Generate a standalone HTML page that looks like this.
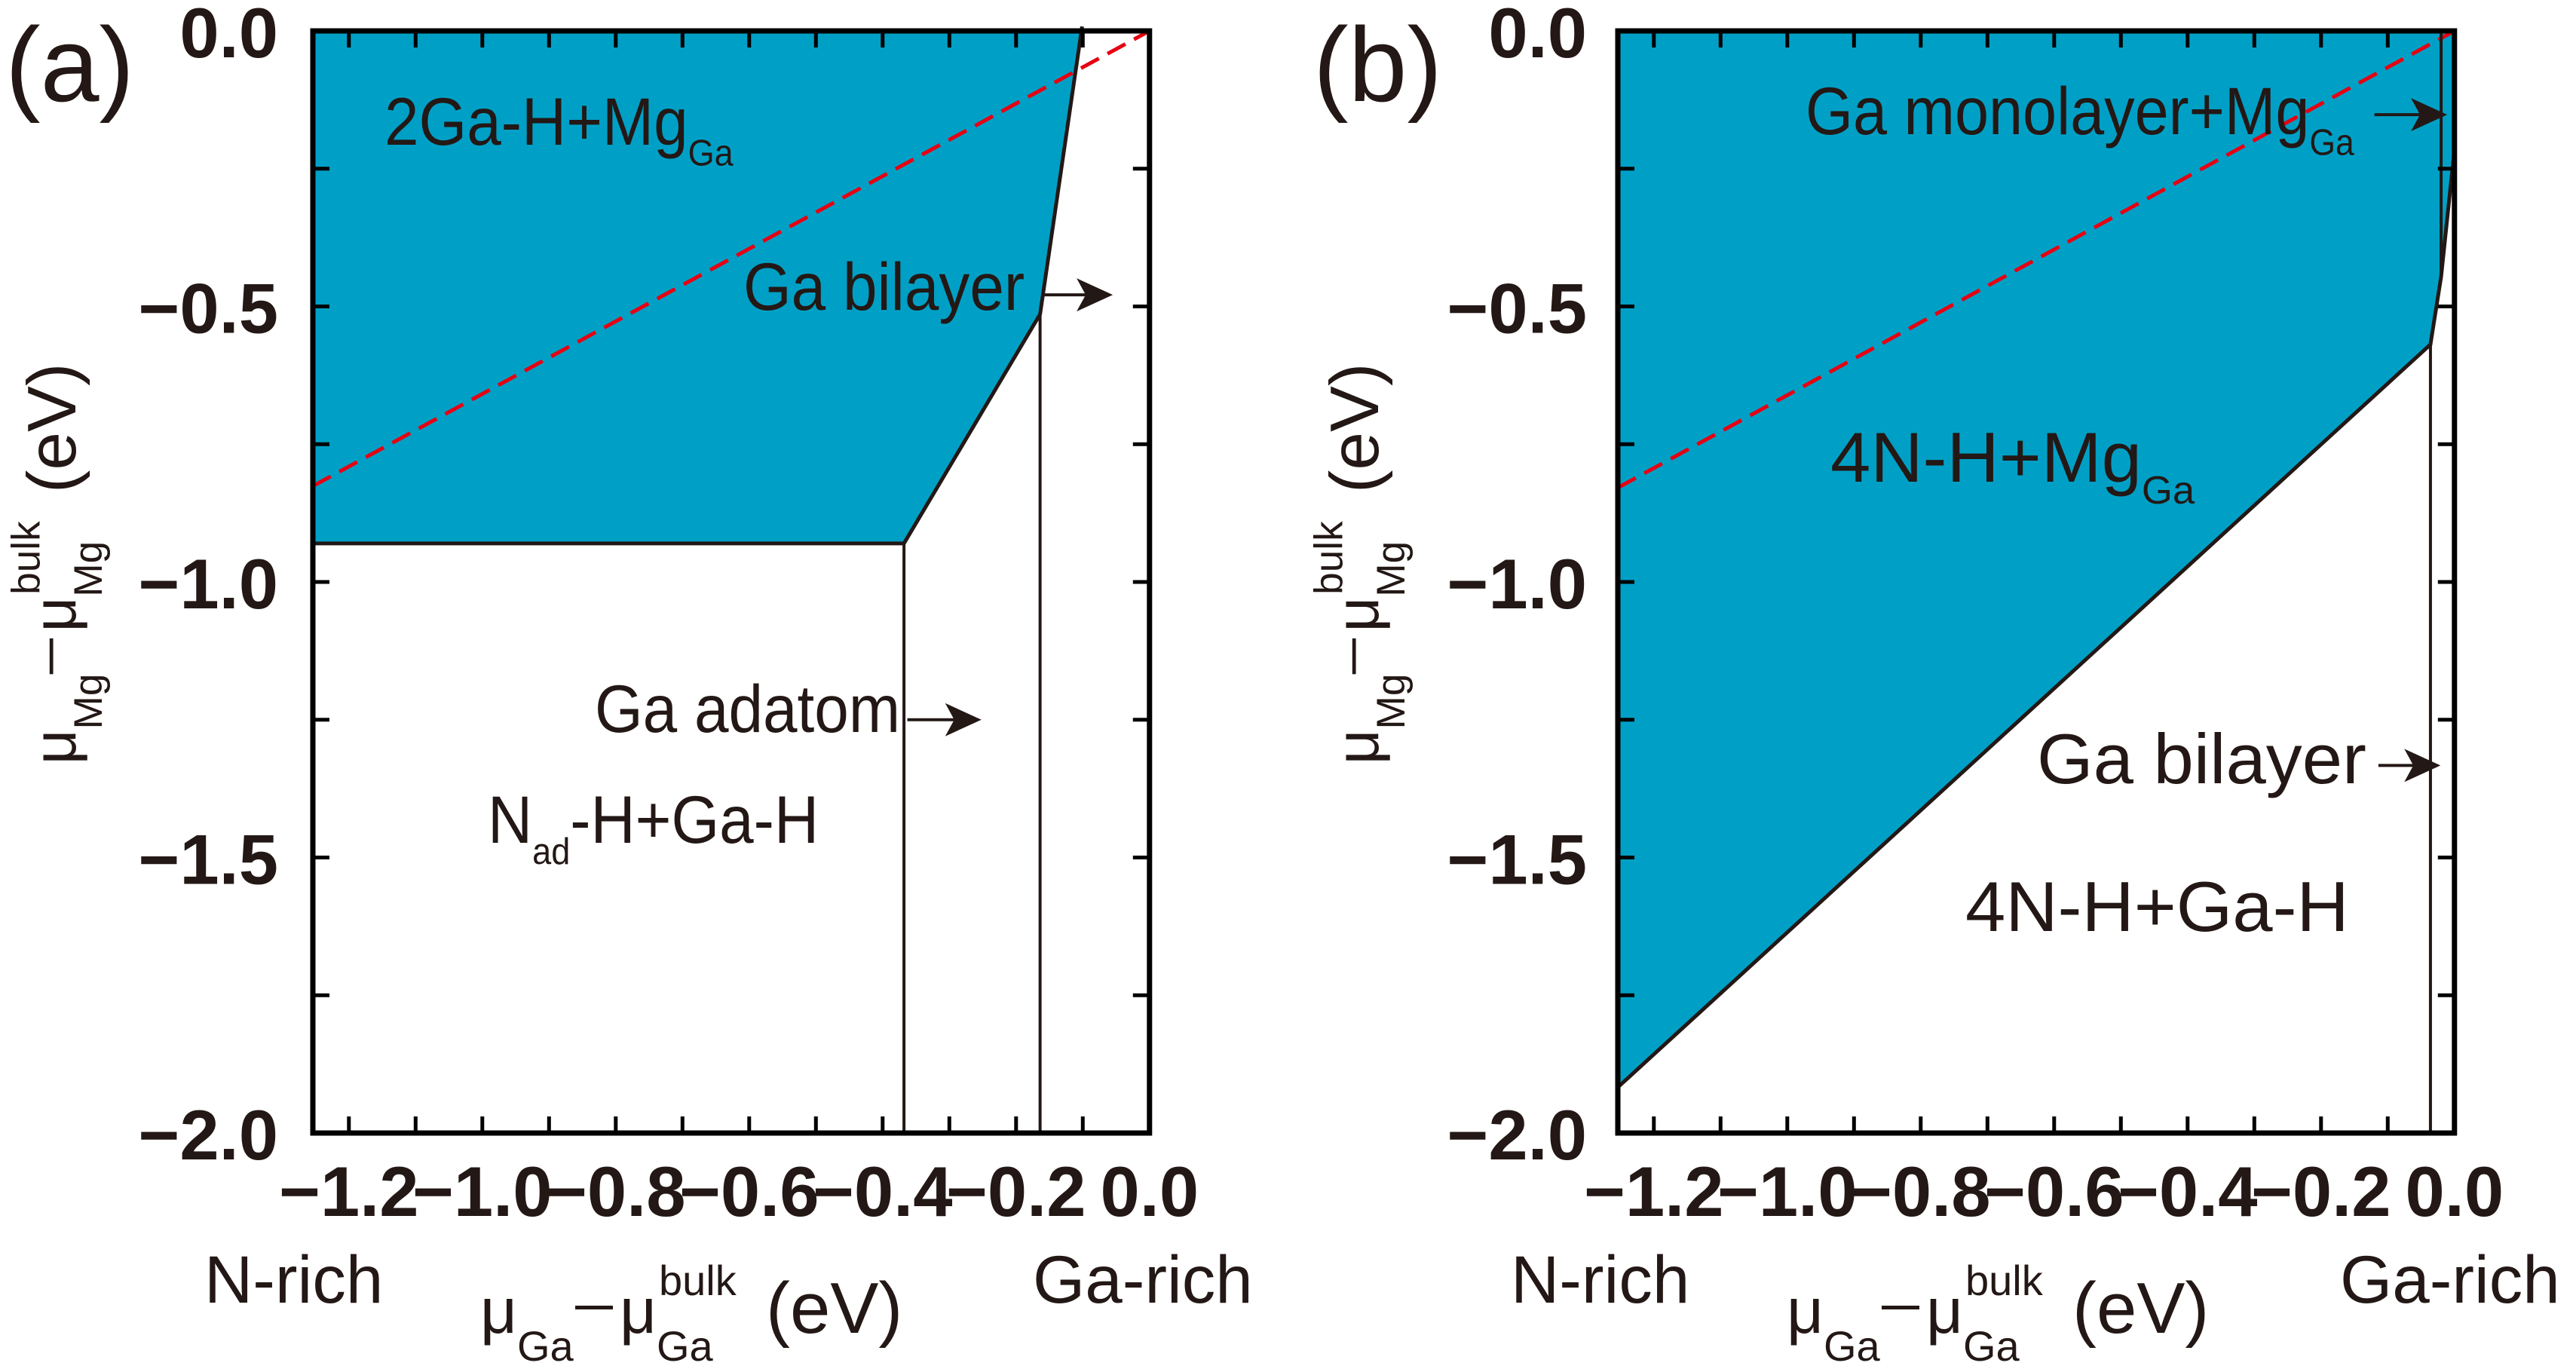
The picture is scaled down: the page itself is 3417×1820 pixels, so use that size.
<!DOCTYPE html>
<html><head><meta charset="utf-8"><style>
html,body{margin:0;padding:0;background:#fff}
svg{display:block}
text{font-family:"Liberation Sans",Arial,sans-serif;fill:#231815}
</style></head><body>
<svg id="fig" width="3417" height="1820" viewBox="0 0 3417 1820" xmlns="http://www.w3.org/2000/svg">
<g id="pa"></g>
<g id="pb"></g>
</svg>
<script>
const xTickVals = [-1.2,-1.0,-0.8,-0.6,-0.4,-0.2,0.0];
const xTickLabels = ["\u22121.2","\u22121.0","\u22120.8","\u22120.6","\u22120.4","\u22120.2","0.0"];
const yTickVals = [0,-0.5,-1.0,-1.5,-2.0];
const yTickLabels = ["0.0","\u22120.5","\u22121.0","\u22121.5","\u22122.0"];
const xMinorStep = 0.1;
const yMinorStep = 0.25;
const xDomain = [-1.254, 0];
const yDomain = [-2, 0];
// panel a data
const aBlueX = [-1.254, -0.103, -0.164, -0.368, -1.254];
const aBlueY = [0, 0, -0.514, -0.93, -0.93];
const aBoundX = [-1.254, -0.368, -0.164, -0.101];
const aBoundY = [-0.93, -0.93, -0.514, 0.008];
const aVertX = [-0.368, -0.164];
const aVertTop = [-0.93, -0.514];
const aRedX = [-1.254, 0];
const aRedY = [-0.826, 0];
const aArrowX0 = [-0.16, -0.363];
const aArrowX1 = [-0.055, -0.252];
const aArrowY = [-0.479, -1.25];
// panel b data
const bBlueX = [-1.254, 0, 0, -0.02, -0.036, -1.254];
const bBlueY = [0, 0, -0.215, -0.446, -0.569, -1.917];
const bBoundX = [-1.254, -0.036, -0.02, 0];
const bBoundY = [-1.917, -0.569, -0.446, -0.215];
const bVertX = [-0.02, -0.036];
const bVertTop = [0, -0.569];
const bVertBot = [-0.446, -2];
const bRedX = [-1.254, 0];
const bRedY = [-0.829, 0];
const bArrowX0 = [-0.12, -0.114];
const bArrowX1 = [-0.011, -0.021];
const bArrowY = [-0.152, -1.333];

const NS = "http://www.w3.org/2000/svg";
function mk(parent, tag, attrs, txt){
  const e = document.createElementNS(NS, tag);
  for (const k in attrs) e.setAttribute(k, attrs[k]);
  if (txt !== undefined) e.textContent = txt;
  parent.appendChild(e);
  return e;
}
function makeScales(x0){
  const sx = 885;
  const X = v => x0 + (v - xDomain[0]) * sx;
  const Y = v => 41 + (yDomain[1] - v) * 731;
  return {X, Y};
}
function arrow(g, X, Y, x0v, x1v, yv){
  const x0 = X(x0v), x1 = X(x1v), y = Y(yv);
  const l = mk(g, "line", {x1:x0, y1:y, x2:x1-30, y2:y, stroke:"#231815", "stroke-width":4});
  
  
  const h = mk(g, "path", {d:`M${x1},${y} L${x1-48},${y-22} L${x1-36},${y} L${x1-48},${y+22} Z`, fill:"#231815"});
  
  
}
function label(g, x, y, main, sub, name, fs, sxs){
  const t = mk(g, "text", {x:0, y:0, "font-size":fs, transform:`translate(${x},${y}) scale(${sxs},1)`});
  
  
  mk(t, "tspan", {}, main);
  if (sub) mk(t, "tspan", {"font-size":fs*0.55, dy:fs*0.31}, sub);
  return t;
}
function axisLabel(g, ox, oy, sub, s, name){
  const grp = mk(g, "g", {});
  
  
  mk(grp, "text", {x:ox, y:oy, "font-size":85*s}, "\u03bc");
  mk(grp, "text", {x:ox+49*s, y:oy+37*s, "font-size":56*s}, sub);
  mk(grp, "rect", {x:ox+126*s, y:oy-36*s, width:50*s, height:5*s, fill:"#231815"});
  mk(grp, "text", {x:ox+185*s, y:oy, "font-size":85*s}, "\u03bc");
  mk(grp, "text", {x:ox+234*s, y:oy+37*s, "font-size":56*s}, sub);
  mk(grp, "text", {x:ox+237*s, y:oy-50*s, "font-size":56*s}, "bulk");
  mk(grp, "text", {x:ox+379*s, y:oy, "font-size":96*s}, "(eV)");
  return grp;
}
function drawPanel(g, x0, P){
  const {X, Y} = makeScales(x0);
  const L = X(xDomain[0]), R = X(xDomain[1]), T = Y(0), B = Y(-2);
  const pts = P.blueX.map((v,i)=>X(v)+","+Y(P.blueY[i])).join(" ");
  const poly = mk(g, "polygon", {points:pts, fill:"#00a0c6"});
  
  
  const red = mk(g, "line", {x1:X(P.redX[0]), y1:Y(P.redY[0]), x2:X(P.redX[1]), y2:Y(P.redY[1]), stroke:"#e60012", "stroke-width":5, "stroke-dasharray":"27 13"});
  
  
  const bd = mk(g, "polyline", {points:P.boundX.map((v,i)=>X(v)+","+Y(P.boundY[i])).join(" "), fill:"none", stroke:"#231815", "stroke-width":5});
  
  
  P.vertX.forEach((v,i)=>{
    const ln = mk(g, "line", {x1:X(v), y1:Y(P.vertTop[i]), x2:X(v), y2:Y(P.vertBot[i]), stroke:"#231815", "stroke-width":4});
    
    
  });
  for (let v = -1.2; v <= 0.0001; v += xMinorStep){
    const x = X(v);
    const t1 = mk(g, "line", {x1:x, y1:B, x2:x, y2:B-22, stroke:"#000", "stroke-width":5});
    
    
    const t2 = mk(g, "line", {x1:x, y1:T, x2:x, y2:T+22, stroke:"#000", "stroke-width":5});
    
    
  }
  for (let v = 0; v >= -2.0001; v -= yMinorStep){
    const y = Y(v);
    const t1 = mk(g, "line", {x1:L, y1:y, x2:L+22, y2:y, stroke:"#000", "stroke-width":5});
    
    
    const t2 = mk(g, "line", {x1:R, y1:y, x2:R-22, y2:y, stroke:"#000", "stroke-width":5});
    
    
  }
  const fr = mk(g, "rect", {x:L, y:T, width:R-L, height:B-T, fill:"none", stroke:"#000", "stroke-width":7});
  
  
  xTickVals.forEach((v,i)=>{
    const t = mk(g, "text", {x:X(v), y:1613, "font-size":94, "font-weight":"bold", "text-anchor":"middle", fill:"#000"}, xTickLabels[i]);
    
    
  });
  yTickVals.forEach((v,i)=>{
    const t = mk(g, "text", {x:P.yLabX, y:Y(v)+35, "font-size":94, "font-weight":"bold", "text-anchor":"end", fill:"#000"}, yTickLabels[i]);
    
    
  });
  P.arX0.forEach((v,i)=>arrow(g, X, Y, v, P.arX1[i], P.arY[i]));
  const pl = mk(g, "text", {x:P.tagX, y:134, "font-size":140}, P.tag);
  
  
  const nr = mk(g, "text", {x:P.nrX, y:1728, "font-size":89}, "N-rich");
  
  
  const gr = mk(g, "text", {x:P.grX, y:1728, "font-size":89}, "Ga-rich");
  
  
  axisLabel(g, P.xlX, 1768, "Ga", 1, 'x-axis-title');
  const yg = mk(g, "g", {transform:`translate(${P.ylBX},1014) rotate(-90)`});
  
  
  axisLabel(yg, 0, 0, "Mg", 0.95, 'y-axis-title');
}
const ga = document.getElementById("pa");
drawPanel(ga, 415, {blueX:aBlueX, blueY:aBlueY, boundX:aBoundX, boundY:aBoundY, vertX:aVertX, vertTop:aVertTop, vertBot:[-2,-2],
  redX:aRedX, redY:aRedY, arX0:aArrowX0, arX1:aArrowX1, arY:aArrowY, yLabX:369, tag:"(a)", tagX:7, nrX:271, grX:1370, xlX:637, ylBX:100});
label(ga, 510, 192, "2Ga-H+Mg", "Ga", "region-label-2gah-mgga", 89, 0.92);
label(ga, 986, 411, "Ga bilayer", null, "region-label-ga-bilayer", 89, 0.92);
label(ga, 789, 971, "Ga adatom", null, "region-label-ga-adatom", 89, 0.92);
(function(){
  const t = mk(ga, "text", {x:0, y:0, "font-size":89, transform:"translate(647,1118) scale(0.92,1)"});
  
  
  mk(t, "tspan", {}, "N");
  mk(t, "tspan", {"font-size":49, dy:28}, "ad");
  mk(t, "tspan", {dy:-28}, "-H+Ga-H");
})();
const gb = document.getElementById("pb");
drawPanel(gb, 2146, {blueX:bBlueX, blueY:bBlueY, boundX:bBoundX, boundY:bBoundY, vertX:bVertX, vertTop:bVertTop, vertBot:bVertBot,
  redX:bRedX, redY:bRedY, arX0:bArrowX0, arX1:bArrowX1, arY:bArrowY, yLabX:2105, tag:"(b)", tagX:1742, nrX:2004, grX:3104, xlX:2370, ylBX:1828});
label(gb, 2395, 178, "Ga monolayer+Mg", "Ga", "region-label-ga-monolayer", 89, 0.91);
label(gb, 2428, 639, "4N-H+Mg", "Ga", "region-label-4nh-mgga", 94, 1.02);
label(gb, 2702, 1039, "Ga bilayer", null, "region-label-ga-bilayer-b", 94, 1.02);
label(gb, 2607, 1235, "4N-H+Ga-H", null, "region-label-4nh-gah", 94, 1.02);
</script>
</body></html>
